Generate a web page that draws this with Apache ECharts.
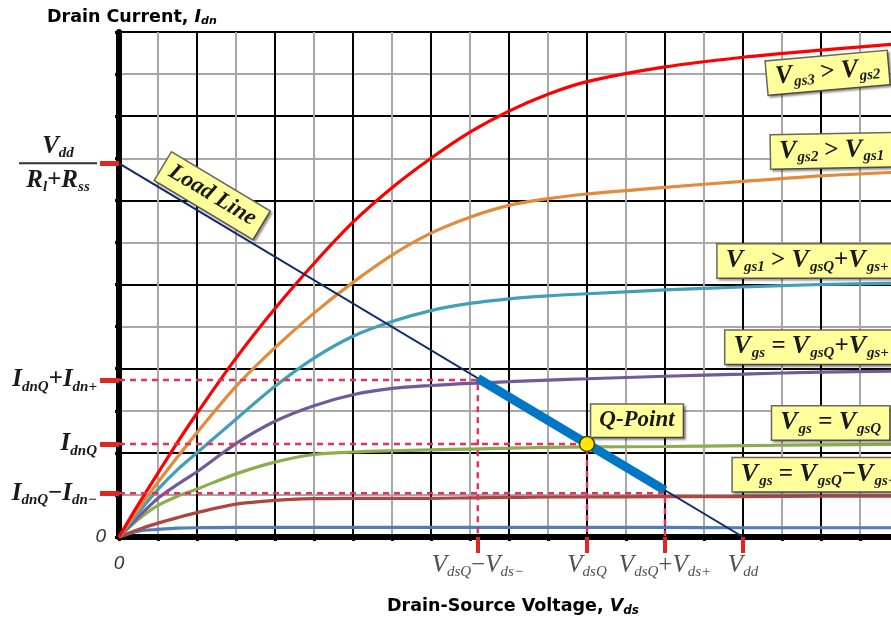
<!DOCTYPE html>
<html>
<head>
<meta charset="utf-8">
<script src="https://cdn.jsdelivr.net/npm/echarts@6/dist/echarts.min.js"></script>
<style>html,body{margin:0;padding:0;background:#fff}#chart{width:891px;height:621px}</style>
</head>
<body>
<div id="chart"></div>
<script>
// axis units are grid squares (grey + black lines)
var vds = [0, 0.5, 1, 1.5, 2, 3, 4, 5, 6, 7, 8, 9, 10, 11, 12, 14, 16, 18, 20];

var idGs3   = [0, 0.78, 1.52, 2.25, 2.94, 4.25, 5.43, 6.5, 7.48, 8.3, 9.0, 9.62, 10.12, 10.52, 10.82, 11.17, 11.4, 11.57, 11.72];
var idGs2   = [0, 0.67, 1.3, 1.9, 2.48, 3.58, 4.5, 5.32, 6.05, 6.7, 7.22, 7.6, 7.88, 8.04, 8.15, 8.31, 8.45, 8.58, 8.67];
var idGs1   = [0, 0.58, 1.13, 1.6, 2.0, 2.8, 3.58, 4.25, 4.77, 5.12, 5.38, 5.55, 5.66, 5.73, 5.78, 5.87, 5.94, 6.0, 6.03];
var idPlus  = [0, 0.48, 0.92, 1.25, 1.55, 2.22, 2.75, 3.12, 3.38, 3.53, 3.6, 3.65, 3.69, 3.73, 3.76, 3.82, 3.87, 3.92, 3.94];
var idQ     = [0, 0.42, 0.75, 0.97, 1.14, 1.5, 1.78, 1.96, 2.02, 2.05, 2.07, 2.09, 2.11, 2.13, 2.14, 2.15, 2.17, 2.19, 2.2];
var idMinus = [0, 0.18, 0.33, 0.46, 0.58, 0.78, 0.87, 0.91, 0.92, 0.92, 0.92, 0.93, 0.94, 0.95, 0.95, 0.96, 0.96, 0.97, 0.97];
var idLow   = [0, 0.14, 0.18, 0.21, 0.22, 0.23, 0.23, 0.23, 0.23, 0.23, 0.23, 0.23, 0.23, 0.23, 0.23, 0.23, 0.22, 0.22, 0.22];

var loadLine = [[0, 8.88], [16, 0]];
var swing = [[9.2, 3.77], [14, 1.11]];
var qPoint = [12, 2.21];

var idLevels = [3.73, 2.21, 1.04];
var vdsLevels = [9.2, 12, 14];

var yMarks = [1.04, 2.21, 3.73, 8.88];
var yMarkText = [
  '{I|I}{s|dnQ}{op|−}{I|I}{s|dn−}',
  '{I|I}{s|dnQ}',
  '{I|I}{s|dnQ}{op|+}{I|I}{s|dn+}',
  '{fv|V}{fvs|dd}\n{bar|}\n{fr|R}{frs|l}{fr|+R}{frs|ss}'
];
var xMarks = [9.2, 12, 14, 16];
var xMarkText = [
  '{V|V}{s|dsQ}{op|−}{V|V}{s|ds−}',
  '{V|V}{s|dsQ}',
  '{V|V}{s|dsQ}{op|+}{V|V}{s|ds+}',
  '{V|V}{s|dd}'
];

var notes = [
  {text: '{v|V}{s|gs3}{op| > }{v|V}{s|gs2}', at: [18.17, 11.03], rotate: 5, pos: 'inside'},
  {text: '{v|V}{s|gs2}{op| > }{v|V}{s|gs1}', at: [16.72, 9.15], rotate: 1, pos: 'right'},
  {text: '{v|V}{s|gs1}{op| > }{v|V}{s|gsQ}{op|+}{v|V}{s|gs+}', at: [15.35, 6.56], rotate: 0, pos: 'right'},
  {text: '{v|V}{s|gs}{op| = }{v|V}{s|gsQ}{op|+}{v|V}{s|gs+}', at: [15.55, 4.51], rotate: 0, pos: 'right'},
  {text: '{v|V}{s|gs}{op| = }{v|V}{s|gsQ}', at: [16.75, 2.71], rotate: 0, pos: 'right'},
  {text: '{v|V}{s|gs}{op| = }{v|V}{s|gsQ}{op|−}{v|V}{s|gs−}', at: [15.74, 1.48], rotate: 0, pos: 'right'},
  {text: '{q|Q-Point}', at: [12.11, 2.76], rotate: 0, pos: 'right'},
  {text: '{q|Load Line}', at: [2.39, 8.11], rotate: -31, pos: 'inside'}
];

var serif = '"Liberation Serif", "Times New Roman", serif';
var sans = '"DejaVu Sans", sans-serif';

function pairs(ys) {
  return vds.map(function (x, i) { return [x, ys[i]]; });
}
function nearest(arr, v) {
  var b = 0;
  for (var i = 1; i < arr.length; i++) {
    if (Math.abs(arr[i] - v) < Math.abs(arr[b] - v)) b = i;
  }
  return b;
}
function bi(size, extra) {
  var o = {fontFamily: serif, fontStyle: 'italic', fontWeight: 'bold', fontSize: size, color: '#1a1a1a'};
  for (var k in extra) o[k] = extra[k];
  return o;
}

var yRich = {
  I: bi(25, {lineHeight: 30}),
  s: bi(15, {padding: [14, 0, 0, 0]}),
  op: bi(25, {fontStyle: 'normal'}),
  fv: bi(25, {align: 'center', lineHeight: 28}),
  fvs: bi(15, {align: 'center', padding: [13, 0, 0, 0]}),
  fr: bi(25, {align: 'center', lineHeight: 28}),
  frs: bi(15, {align: 'center', padding: [13, 0, 0, 0]}),
  bar: {width: 78, height: 2, lineHeight: 6, backgroundColor: '#333'}
};
var xRich = {
  V: {fontFamily: serif, fontStyle: 'italic', fontSize: 25, color: '#505050', lineHeight: 28},
  s: {fontFamily: serif, fontStyle: 'italic', fontSize: 15, color: '#505050', padding: [14, 0, 0, 0]},
  op: {fontFamily: serif, fontSize: 25, color: '#505050'}
};
var zeroRich = {z: {fontFamily: '"Liberation Sans", sans-serif', fontStyle: 'italic', fontSize: 19, color: '#333'}};
var boxRich = {
  v: bi(26, {lineHeight: 30}),
  s: bi(15, {padding: [13, 0, 0, 1]}),
  op: bi(25, {fontStyle: 'normal'}),
  q: bi(23, {lineHeight: 29})
};

var gridLine = {show: true, lineStyle: {color: ['#000', '#a8a8a8'], width: 2}};

var curves = [
  {data: idLow, color: '#4f7fba'},
  {data: idMinus, color: '#ad4541'},
  {data: idQ, color: '#8cac4e'},
  {data: idPlus, color: '#705a98'},
  {data: idGs1, color: '#429fb8'},
  {data: idGs2, color: '#e38b3c'},
  {data: idGs3, color: '#ff0000'}
];

var series = curves.map(function (c) {
  return {
    type: 'line', data: pairs(c.data), showSymbol: false, smooth: 0.3,
    lineStyle: {color: c.color, width: 3.2}, z: 3
  };
});

series.push({
  type: 'line', data: loadLine, showSymbol: false,
  lineStyle: {color: '#0e2a6a', width: 2}, z: 4
});
series.push({
  type: 'line', data: swing, showSymbol: false,
  lineStyle: {color: '#0076c6', width: 9, cap: 'butt'}, z: 5
});
idLevels.forEach(function (lv, i) {
  series.push({
    type: 'line', showSymbol: false,
    data: [[0, lv], [vdsLevels[i], lv], [vdsLevels[i], 0]],
    lineStyle: {color: '#e23360', width: 2.5, type: [6, 5]}, z: 6
  });
});
series.push({
  type: 'scatter', data: [qPoint], symbolSize: 15, z: 7,
  itemStyle: {color: '#ffe800', borderColor: '#4a3d00', borderWidth: 1.5, opacity: 1}
});
series.push({
  type: 'scatter', symbolSize: 0, z: 8,
  itemStyle: {opacity: 1},
  data: notes.map(function (n) {
    return {
      value: n.at,
      label: {
        show: true, position: n.pos, distance: 0, rotate: n.rotate,
        formatter: n.text, rich: boxRich,
        backgroundColor: '#ffff9c', borderColor: '#6e655c', borderWidth: 1.5,
        padding: [1, 8, 2, 8],
        shadowColor: 'rgba(0,0,0,0.3)', shadowBlur: 2, shadowOffsetX: 2, shadowOffsetY: 2
      }
    };
  })
});

var chart = echarts.init(document.getElementById('chart'));
chart.setOption({
  animation: false,
  backgroundColor: '#fff',
  title: [
    {
      left: 42, top: 2,
      text: '{a|Drain Current, }{i|I}{s|dn}',
      textStyle: {rich: {
        a: {fontFamily: sans, fontWeight: 'bold', fontSize: 17.5, color: '#000'},
        i: {fontFamily: sans, fontWeight: 'bold', fontStyle: 'italic', fontSize: 17.5, color: '#000'},
        s: {fontFamily: sans, fontWeight: 'bold', fontStyle: 'italic', fontSize: 11, color: '#000', padding: [9, 0, 0, 0]}
      }}
    },
    {
      left: 382, top: 591,
      text: '{a|Drain-Source Voltage, }{i|V}{s|ds}',
      textStyle: {rich: {
        a: {fontFamily: sans, fontWeight: 'bold', fontSize: 17.5, color: '#000'},
        i: {fontFamily: sans, fontWeight: 'bold', fontStyle: 'italic', fontSize: 17.5, color: '#000'},
        s: {fontFamily: sans, fontWeight: 'bold', fontStyle: 'italic', fontSize: 12, color: '#000', padding: [9, 0, 0, 0]}
      }}
    }
  ],
  grid: {left: 119, right: -8, top: 32, bottom: 84, containLabel: false, outerBoundsMode: 'none'},
  xAxis: [
    {
      type: 'value', min: 0, max: 20, interval: 1, position: 'bottom',
      axisLine: {show: true, onZero: false, lineStyle: {color: '#000', width: 6}},
      axisTick: {show: true, length: 4, lineStyle: {color: '#000', width: 3}},
      axisLabel: {customValues: [0], formatter: '{z|0}', margin: 17, rich: zeroRich},
      splitLine: gridLine
    },
    {
      type: 'value', min: 0, max: 20, position: 'bottom',
      axisLine: {show: false, onZero: false},
      splitLine: {show: false},
      axisTick: {show: true, customValues: xMarks, length: 16, lineStyle: {color: '#e0261f', width: 4}},
      axisLabel: {
        customValues: xMarks, margin: 14, hideOverlap: false, rich: xRich,
        formatter: function (v) { return xMarkText[nearest(xMarks, v)]; }
      }
    }
  ],
  yAxis: [
    {
      type: 'value', min: 0, max: 12, interval: 1, position: 'left',
      axisLine: {show: true, onZero: false, lineStyle: {color: '#000', width: 6}},
      axisTick: {show: true, length: 4, lineStyle: {color: '#000', width: 3}},
      axisLabel: {customValues: [0], formatter: '{z|0}', margin: 13, rich: zeroRich},
      splitLine: gridLine
    },
    {
      type: 'value', min: 0, max: 12, position: 'left',
      axisLine: {show: false, onZero: false},
      splitLine: {show: false},
      axisTick: {show: true, customValues: yMarks, length: 19, lineStyle: {color: '#e0261f', width: 5}},
      axisLabel: {
        customValues: yMarks, margin: 22, hideOverlap: false, rich: yRich,
        formatter: function (v) { return yMarkText[nearest(yMarks, v)]; }
      }
    }
  ],
  series: series
});
</script>
</body>
</html>
